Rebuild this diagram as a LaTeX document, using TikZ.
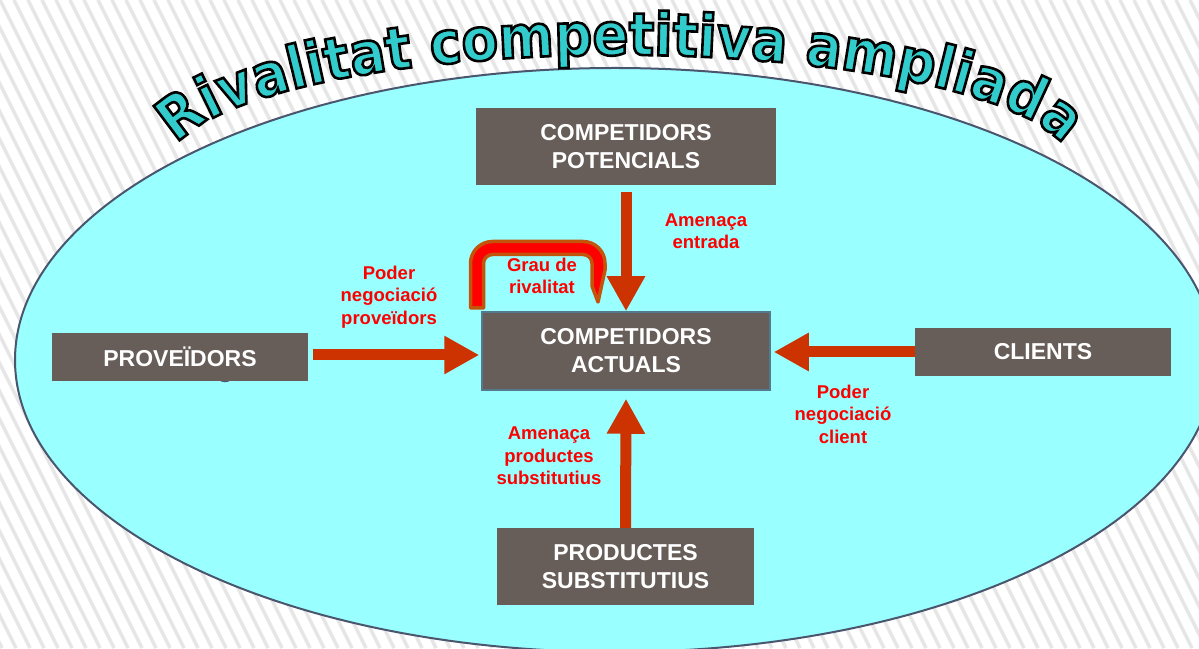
\documentclass[tikz,border=0pt]{standalone}
\usepackage{fontspec}
\setmainfont{Liberation Sans}
\newfontfamily\titlefont{DejaVu Sans}[FakeStretch=0.9]
\usetikzlibrary{arrows.meta,decorations.text,calc}

\definecolor{skyfill}{RGB}{153,255,255}
\definecolor{rimcol}{RGB}{74,86,110}
\definecolor{boxcol}{RGB}{103,94,89}
\definecolor{arrowcol}{RGB}{204,51,0}
\definecolor{labelcol}{RGB}{255,0,0}
\definecolor{titlecol}{RGB}{51,204,204}
\definecolor{stripecol}{RGB}{230,230,230}
\definecolor{grauedge}{RGB}{196,84,10}
\definecolor{actedge}{RGB}{84,120,140}

\tikzset{
  forcebox/.style={fill=boxcol, text=white, font=\bfseries\fontsize{23}{28}\selectfont,
    align=center, inner sep=0pt},
  forcelabel/.style={text=labelcol, font=\bfseries\fontsize{18.5}{22.5}\selectfont,
    align=center, inner sep=0pt},
  force/.style={draw=arrowcol, line width=11pt,
    -{Triangle[length=35pt,width=36pt]}},
  grauband/.style={draw=grauedge, fill=labelcol, line width=3.5pt, line join=round},
}

\begin{document}
\begin{tikzpicture}[x=1pt,y=1pt]
\useasboundingbox (0,0) rectangle (1199,648);
\clip (0,0) rectangle (1199,648);

% striped backdrop
\fill[white] (0,0) rectangle (1199,648);
\foreach \k in {-30,...,90}
  \draw[stripecol, line width=3.5pt] (\k*14,648) -- ++(324,-648);

% the wide market ellipse
\draw[fill=skyfill, draw=rimcol, line width=2pt] (615,288) ellipse [x radius=600, y radius=292];
\draw[rimcol, line width=1.5pt] (225,275) circle [radius=8.5];

% the five forces
\node[forcebox, minimum width=300pt, minimum height=77pt] (pot) at (626,501.5) {COMPETIDORS\\POTENCIALS};
\node[forcebox, draw=actedge, line width=1.5pt, minimum width=288pt, minimum height=78pt] (act) at (626,297) {COMPETIDORS\\ACTUALS};
\node[forcebox, minimum width=256pt, minimum height=48pt] (prov) at (180,291) {PROVEÏDORS};
\node[forcebox, minimum width=256pt, minimum height=48pt] (cli) at (1043,296) {CLIENTS};
\node[forcebox, minimum width=257pt, minimum height=77pt] (prod) at (625.5,81.5) {PRODUCTES\\SUBSTITUTIUS};

% pressure arrows towards the current competitors
\draw[force] ($(pot.south)+(0,-7)$) -- (act.north);
\draw[force] (prod.north) -- ($(act.south)+(0,-8)$);
\draw[force] ($(prov.east)+(5,2)$) -- ($(act.west)+(-2,-4)$);
\draw[force] (cli.west) -- ($(act.east)+(3,-1)$);

% bent band for the internal rivalry
\draw[grauband] (470.5,340) -- (470.5,384.5)
  arc[start angle=180, end angle=90, radius=22] -- (583,406.5)
  arc[start angle=90, end angle=0, radius=22] -- (605,378) -- (598,346) -- (592,362)
  -- (592,384.5) arc[start angle=0, end angle=90, radius=9] -- (492.5,393.5)
  arc[start angle=90, end angle=180, radius=9] -- (483.5,340) -- cycle;

% labels
\node[forcelabel] (lblentry) at (706,417) {Amenaça\\entrada};
\node[forcelabel] (lblsupp) at (389,351) {Poder\\negociació\\proveïdors};
\node[forcelabel] (lblgrau) at (542,372) {Grau de\\rivalitat};
\node[forcelabel] (lblclient) at (843,234) {Poder\\negociació\\client};
\node[forcelabel] (lblsubst) at (549,192) {Amenaça\\productes\\substitutius};

% arched outlined title
\begin{scope}
\path[decorate, decoration={text along path, text align=center,
  text={|\titlefont\bfseries\fontsize{59}{66}\selectfont\color{titlecol}\special{pdf:literal direct 0 0 0 RG 2 Tr 2.6 w}|Rivalitat competitiva ampliada}}]
  (620,483) ++(176:450 and 110) arc[start angle=176, end angle=4, x radius=450, y radius=110];
\end{scope}
\end{tikzpicture}
\end{document}
